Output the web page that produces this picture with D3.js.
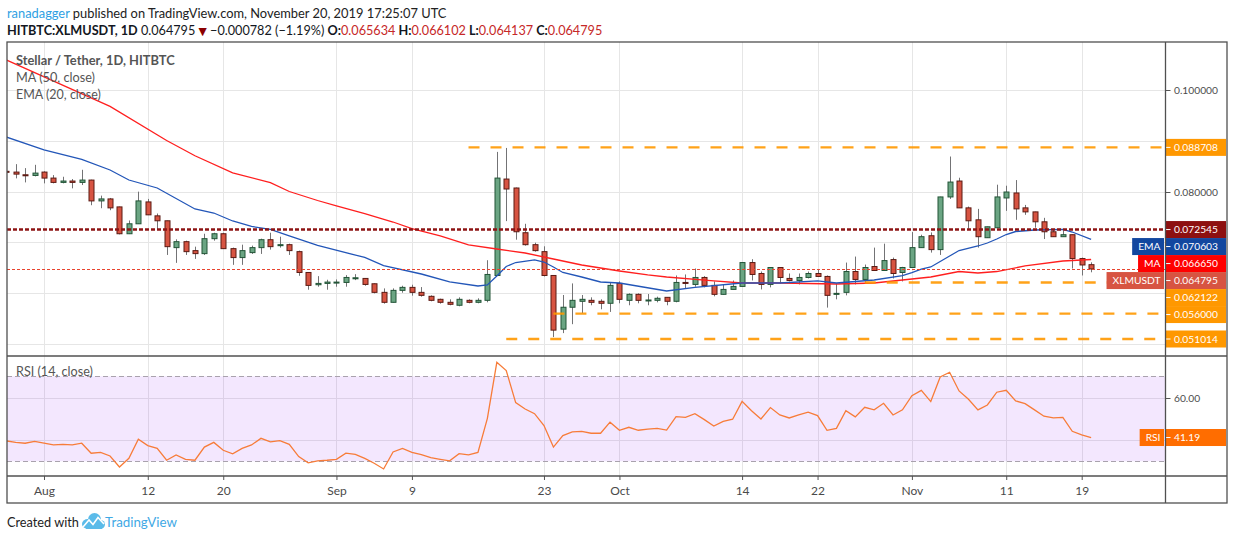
<!DOCTYPE html>
<html>
<head>
<meta charset="utf-8">
<script src="https://cdnjs.cloudflare.com/ajax/libs/d3/7.8.5/d3.min.js"></script>
<style>
  html, body { margin: 0; padding: 0; background: #fff; }
  svg { display: block; font-family: "Lato", "Open Sans", sans-serif; }
</style>
</head>
<body>
<div class="viz"></div>
<script>
// daily candles, 2019-07-28 .. 2019-11-20
const firstDay = "2019-07-28", lastDay = "2019-11-20";

const opens = [
  0.0840, 0.08385, 0.08332, 0.08319,
  0.08385, 0.08267, 0.08182, 0.08209, 0.08182, 0.08228, 0.07818, 0.07857, 0.07700, 0.07172,
  0.07368, 0.07798, 0.07524, 0.07427, 0.06899, 0.07016, 0.06840, 0.06781, 0.07075, 0.07172,
  0.06879, 0.06703, 0.06801, 0.06899, 0.07055, 0.06938, 0.06957, 0.06820, 0.06410, 0.06169, 0.06195,
  0.06208, 0.06214, 0.06286, 0.06293, 0.06188, 0.06019, 0.05823, 0.06058, 0.06117, 0.06019,
  0.05941, 0.05882, 0.05823, 0.05765, 0.05862, 0.05823, 0.05862, 0.06351, 0.08248, 0.08072,
  0.07192, 0.06957, 0.06820, 0.06351, 0.05295, 0.05726, 0.05843, 0.05862, 0.05843, 0.05804,
  0.06195, 0.05862, 0.05980, 0.05862, 0.05862, 0.05921, 0.05843, 0.06214, 0.06175, 0.06312,
  0.06156, 0.05980, 0.06077, 0.06136, 0.06605, 0.06390, 0.06175, 0.06508, 0.06293, 0.06253,
  0.06312, 0.06390, 0.06332, 0.05980, 0.06019, 0.06429, 0.06273, 0.06527, 0.06449, 0.06664, 0.06410,
  0.06508, 0.06899, 0.07133, 0.06860, 0.07896, 0.08209, 0.07681, 0.07446, 0.07094, 0.07290,
  0.07876, 0.07974, 0.07681, 0.07602, 0.07407, 0.07211, 0.07114, 0.07153, 0.06684, 0.065634
];
const highs = [
  0.0843, 0.08541, 0.08463, 0.08528,
  0.08400, 0.08326, 0.08293, 0.08248, 0.08430, 0.08235, 0.07922, 0.07876, 0.07705, 0.07433,
  0.08000, 0.07857, 0.07570, 0.07430, 0.07062, 0.07036, 0.06918, 0.07172, 0.07192, 0.07192,
  0.06899, 0.06957, 0.06938, 0.07075, 0.07192, 0.07114, 0.06977, 0.06840, 0.06415, 0.06338, 0.06267,
  0.06273, 0.06358, 0.06377, 0.06300, 0.06195, 0.06097, 0.06097, 0.06149, 0.06169, 0.06123,
  0.05960, 0.05895, 0.05882, 0.05921, 0.05882, 0.05902, 0.06651, 0.08782, 0.08860, 0.08080,
  0.07368, 0.06996, 0.06925, 0.06355, 0.05967, 0.06195, 0.05967, 0.05921, 0.05882, 0.06214,
  0.06234, 0.05999, 0.05999, 0.05986, 0.05934, 0.05925, 0.06351, 0.06371, 0.06488, 0.06338,
  0.06234, 0.06175, 0.06253, 0.06610, 0.06671, 0.06429, 0.06512, 0.06512, 0.06390, 0.06390,
  0.06429, 0.06475, 0.06351, 0.06195, 0.06605, 0.06723, 0.06566, 0.06899, 0.06977, 0.06703, 0.06521,
  0.07205, 0.07153, 0.07198, 0.07900, 0.08691, 0.08274, 0.07707, 0.07661, 0.07312, 0.08137,
  0.08117, 0.08228, 0.07739, 0.07605, 0.07485, 0.07251, 0.07231, 0.07156, 0.06703, 0.066102
];
const lows = [
  0.0836, 0.08261, 0.08182, 0.08300,
  0.08163, 0.08163, 0.08163, 0.08065, 0.08130, 0.07733, 0.07674, 0.07635, 0.07160, 0.07166,
  0.07365, 0.07540, 0.07257, 0.06755, 0.06599, 0.06755, 0.06677, 0.06755, 0.07036, 0.06875,
  0.06560, 0.06560, 0.06775, 0.06775, 0.06860, 0.06899, 0.06755, 0.06345, 0.06071, 0.06130, 0.06071,
  0.06130, 0.06130, 0.06260, 0.06149, 0.05999, 0.05797, 0.05820, 0.06012, 0.05954, 0.05934,
  0.05843, 0.05797, 0.05765, 0.05745, 0.05804, 0.05804, 0.05823, 0.06348, 0.07420, 0.07055,
  0.06938, 0.06820, 0.06332, 0.05139, 0.05217, 0.05393, 0.05608, 0.05765, 0.05686, 0.05634,
  0.05804, 0.05765, 0.05804, 0.05765, 0.05823, 0.05765, 0.05823, 0.06097, 0.06130, 0.06117,
  0.05941, 0.05975, 0.06072, 0.06130, 0.06253, 0.06077, 0.06117, 0.06195, 0.06234, 0.06175,
  0.06293, 0.06325, 0.05719, 0.05882, 0.05960, 0.06175, 0.06195, 0.06445, 0.06445, 0.06293, 0.06234,
  0.06505, 0.06895, 0.06801, 0.06755, 0.07857, 0.07678, 0.07270, 0.06899, 0.07090, 0.07286,
  0.07622, 0.07446, 0.07544, 0.07290, 0.07068, 0.07110, 0.07110, 0.06488, 0.06351, 0.064137
];
const closes = [
  0.08385, 0.08345, 0.08319, 0.08365,
  0.08267, 0.08182, 0.08209, 0.08182, 0.08228, 0.07818, 0.07857, 0.07681, 0.07172, 0.07368,
  0.07818, 0.07544, 0.07427, 0.06918, 0.07016, 0.06820, 0.06781, 0.07075, 0.07172, 0.06879,
  0.06703, 0.06840, 0.06899, 0.07055, 0.06918, 0.06957, 0.06840, 0.06410, 0.06156, 0.06195, 0.06221,
  0.06221, 0.06312, 0.06306, 0.06175, 0.06019, 0.05823, 0.06058, 0.06117, 0.06019, 0.05960,
  0.05862, 0.05823, 0.05784, 0.05882, 0.05823, 0.05862, 0.06371, 0.08267, 0.08052, 0.07211,
  0.06957, 0.06840, 0.06351, 0.05276, 0.05726, 0.05862, 0.05882, 0.05823, 0.05804, 0.06156,
  0.05882, 0.05980, 0.05862, 0.05869, 0.05902, 0.05843, 0.06214, 0.06201, 0.06312, 0.06156,
  0.05980, 0.06077, 0.06136, 0.06605, 0.06371, 0.06175, 0.06508, 0.06312, 0.06253, 0.06312,
  0.06390, 0.06332, 0.05960, 0.05999, 0.06429, 0.06273, 0.06508, 0.06449, 0.06644, 0.06390, 0.06508,
  0.06899, 0.07114, 0.06860, 0.07896, 0.08189, 0.07681, 0.07427, 0.07114, 0.07309, 0.07896,
  0.07993, 0.07661, 0.07602, 0.07407, 0.07211, 0.07114, 0.07153, 0.06684, 0.065577, 0.064795
];
const rsiValues = [
  39.6, 38.9, 38.5, 39.4,
  38.5, 37.7, 38.0, 37.7, 38.5, 33.8, 34.2, 32.5, 27.3, 31.4,
  40.4, 37.4, 36.1, 30.5, 33.0, 30.9, 30.5, 36.7, 38.9, 35.2,
  33.5, 36.1, 37.7, 40.8, 39.1, 39.7, 38.0, 32.2, 29.3, 30.2, 30.5,
  30.9, 33.8, 33.3, 31.4, 29.1, 26.4, 34.4, 36.1, 34.2, 33.1,
  31.7, 30.9, 30.2, 33.6, 33.0, 34.2, 50.2, 76.6, 72.7, 57.6,
  54.6, 52.4, 46.8, 36.7, 42.1, 43.8, 44.1, 43.2, 43.2, 48.4,
  44.6, 46.0, 44.6, 45.1, 45.5, 44.7, 51.0, 50.7, 52.4, 49.6,
  46.6, 48.8, 49.8, 58.2, 53.8, 49.9, 55.3, 51.8, 50.4, 51.8,
  53.1, 51.5, 44.6, 45.5, 53.8, 50.9, 55.4, 54.2, 57.3, 51.8, 54.2,
  60.9, 63.4, 58.1, 69.7, 71.9, 63.1, 59.2, 54.2, 56.5, 62.5,
  63.4, 58.4, 57.1, 54.2, 51.2, 50.4, 50.7, 44.1, 42.4, 41.19
];

// MA (50)
const maLine = [
  ["2019-07-28", 0.10590], ["2019-08-08", 0.09677], ["2019-08-14", 0.09007], ["2019-08-17", 0.08706],
  ["2019-08-21", 0.08371], ["2019-08-25", 0.08178], ["2019-08-27", 0.08003], ["2019-08-30", 0.07826],
  ["2019-09-01", 0.07718], ["2019-09-04", 0.07566], ["2019-09-07", 0.07403], ["2019-09-09", 0.07275],
  ["2019-09-12", 0.07128], ["2019-09-15", 0.06951], ["2019-09-18", 0.06872], ["2019-09-21", 0.06793],
  ["2019-09-24", 0.06675], ["2019-09-27", 0.06557], ["2019-10-01", 0.06439], ["2019-10-04", 0.06361],
  ["2019-10-06", 0.06321], ["2019-10-11", 0.06243], ["2019-10-14", 0.06203], ["2019-10-18", 0.06203],
  ["2019-10-24", 0.06183], ["2019-10-28", 0.06203], ["2019-10-31", 0.06262], ["2019-11-03", 0.06321],
  ["2019-11-06", 0.06429], ["2019-11-08", 0.06400], ["2019-11-10", 0.06429], ["2019-11-13", 0.06538],
  ["2019-11-17", 0.06636], ["2019-11-20", 0.06665]
];
// EMA (20)
const emaLine = [
  ["2019-07-28", 0.09075], ["2019-08-01", 0.08820], ["2019-08-05", 0.08633], ["2019-08-08", 0.08426],
  ["2019-08-10", 0.08229], ["2019-08-13", 0.08072], ["2019-08-17", 0.07659], ["2019-08-19", 0.07580],
  ["2019-08-21", 0.07423], ["2019-08-23", 0.07315], ["2019-08-25", 0.07256], ["2019-08-27", 0.07128],
  ["2019-08-30", 0.06941], ["2019-09-04", 0.06705], ["2019-09-06", 0.06547], ["2019-09-10", 0.06380],
  ["2019-09-13", 0.06223], ["2019-09-16", 0.06144], ["2019-09-17", 0.06164], ["2019-09-18", 0.06341],
  ["2019-09-19", 0.06528], ["2019-09-20", 0.06606], ["2019-09-22", 0.06656], ["2019-09-23", 0.06616],
  ["2019-09-24", 0.06518], ["2019-09-25", 0.06410], ["2019-09-27", 0.06321], ["2019-09-29", 0.06223],
  ["2019-10-01", 0.06203], ["2019-10-06", 0.06046], ["2019-10-09", 0.06115], ["2019-10-14", 0.06203],
  ["2019-10-18", 0.06203], ["2019-10-22", 0.06243], ["2019-10-24", 0.06203], ["2019-10-28", 0.06262],
  ["2019-10-31", 0.06350], ["2019-11-01", 0.06406], ["2019-11-02", 0.06478], ["2019-11-03", 0.06518],
  ["2019-11-04", 0.06626], ["2019-11-05", 0.06734], ["2019-11-06", 0.06842], ["2019-11-08", 0.06931],
  ["2019-11-09", 0.06990], ["2019-11-10", 0.07069], ["2019-11-11", 0.07157], ["2019-11-12", 0.07216],
  ["2019-11-14", 0.07246], ["2019-11-17", 0.07256], ["2019-11-18", 0.07206], ["2019-11-20", 0.070603]
];

// drawn horizontal levels
const supportLevels = [0.088708, 0.062122, 0.056000, 0.051014];
const supportStarts = ["2019-09-15", "2019-10-27", "2019-09-24", "2019-09-19"];
const keyLevel = 0.072545;

const xTicks = ["2019-08-01", "2019-08-12", "2019-08-20", "2019-09-01", "2019-09-09", "2019-09-23",
                "2019-10-01", "2019-10-14", "2019-10-22", "2019-11-01", "2019-11-11", "2019-11-19"];
const priceTicks = [0.05, 0.06, 0.07, 0.08, 0.09, 0.10];
const rsiTicks = [40, 60];
const rsiBand = [30, 70];

const parse = d3.utcParse("%Y-%m-%d");
const days = d3.utcDay.range(parse(firstDay), d3.utcDay.offset(parse(lastDay), 1));
const candles = days.map((d, i) => ({ date: d, o: opens[i], h: highs[i], l: lows[i], c: closes[i], rsi: rsiValues[i] }));
const lastBar = candles[candles.length - 1], prevBar = candles[candles.length - 2];

const W = 1234, H = 540;
const padL = 7, axisX = 1165.5, frameR = 1227, paneTop = 42, paneSplit = 356, rsiBottom = 476, frameBottom = 503;

const x = d3.scaleUtc().domain([parse("2019-08-01"), parse("2019-11-19")]).range([44, 1081.7]);
const y = d3.scaleLinear().domain([0.04767, 0.10944]).range([paneSplit, paneTop]);
const yr = d3.scaleLinear().domain([23.08, 79.55]).range([rsiBottom, paneSplit]);
const fmt6 = d3.format(".6f");

const svg = d3.select(".viz").append("svg").attr("width", W).attr("height", H);
const defs = svg.append("defs");
defs.append("clipPath").attr("id", "clipMain").append("rect")
  .attr("x", padL).attr("y", paneTop).attr("width", axisX - padL).attr("height", paneSplit - paneTop);
defs.append("clipPath").attr("id", "clipRsi").append("rect")
  .attr("x", padL).attr("y", paneSplit).attr("width", axisX - padL).attr("height", rsiBottom - paneSplit);

function fit(sel, target) {
  const w = sel.node().getComputedTextLength();
  const fs = parseFloat(sel.attr("font-size"));
  sel.attr("font-size", fs * target / w);
  return sel;
}

// header
const h1 = svg.append("text").attr("x", 7).attr("y", 17.5).attr("font-size", 13).attr("fill", "#222");
h1.append("tspan").attr("fill", "#2f9fe3").text("ranadagger");
h1.append("tspan").text(" published on TradingView.com, November 20, 2019 17:25:07 UTC");
fit(h1, 440);

const chg = lastBar.c - prevBar.c;
const h2 = svg.append("text").attr("x", 7).attr("y", 35).attr("font-size", 13).attr("fill", "#131722");
h2.append("tspan").attr("font-weight", "bold").text("HITBTC:XLMUSDT, 1D");
h2.append("tspan").text(" " + fmt6(lastBar.c) + " ");
h2.append("tspan").attr("fill", "#8b0000").attr("font-family", "DejaVu Sans").attr("font-size", "0.85em").text("▼");
h2.append("tspan").text(" " + fmt6(chg) + " (" + d3.format(".2f")(chg / prevBar.c * 100) + "%) ");
[["O:", lastBar.o], [" H:", lastBar.h], [" L:", lastBar.l], [" C:", lastBar.c]].forEach(([k, v]) => {
  h2.append("tspan").attr("font-weight", "bold").text(k);
  h2.append("tspan").attr("fill", "#c62828").text(fmt6(v));
});
fit(h2, 596);

// grid
const grid = svg.append("g").attr("stroke", "#e6e6e6").attr("stroke-width", 1);
xTicks.forEach(t => {
  const xx = Math.round(x(parse(t))) + 0.5;
  grid.append("line").attr("x1", xx).attr("x2", xx).attr("y1", paneTop).attr("y2", rsiBottom);
});
priceTicks.forEach(p => {
  const yy = Math.round(y(p)) + 0.5;
  grid.append("line").attr("x1", padL).attr("x2", axisX).attr("y1", yy).attr("y2", yy);
});
rsiTicks.forEach(r => {
  const yy = Math.round(yr(r)) + 0.5;
  grid.append("line").attr("x1", padL).attr("x2", axisX).attr("y1", yy).attr("y2", yy);
});

// main pane
const main = svg.append("g").attr("clip-path", "url(#clipMain)");
const cx = d => Math.round(x(d.date)) + 0.5;

main.selectAll("line.wick").data(candles).join("line")
  .attr("class", "wick")
  .attr("x1", cx).attr("x2", cx)
  .attr("y1", d => y(d.h)).attr("y2", d => y(d.l))
  .attr("stroke", "#737375").attr("stroke-width", 1);

main.selectAll("rect.body").data(candles).join("rect")
  .attr("class", "body")
  .attr("x", d => cx(d) - 2.5)
  .attr("width", 5)
  .attr("y", d => y(Math.max(d.o, d.c)))
  .attr("height", d => Math.max(1, Math.abs(y(d.o) - y(d.c))))
  .attr("fill", d => d.c >= d.o ? "#6ba583" : "#d75442")
  .attr("stroke", d => d.c >= d.o ? "#225437" : "#5b1a13")
  .attr("stroke-width", 1);

const line = d3.line().x(d => x(parse(d[0]))).y(d => y(d[1]));
main.append("path").attr("d", line(maLine)).attr("fill", "none")
  .attr("stroke", "#ff1f1f").attr("stroke-width", 1.3);
main.append("path").attr("d", line(emaLine)).attr("fill", "none")
  .attr("stroke", "#2356b8").attr("stroke-width", 1.3);

main.append("line")
  .attr("x1", padL).attr("x2", axisX).attr("y1", y(keyLevel)).attr("y2", y(keyLevel))
  .attr("stroke", "#8d1414").attr("stroke-width", 2.6).attr("stroke-dasharray", "4,2");

supportLevels.forEach((v, i) => {
  main.append("line")
    .attr("x1", x(parse(supportStarts[i]))).attr("x2", axisX)
    .attr("y1", y(v)).attr("y2", y(v))
    .attr("stroke", "#ff9800").attr("stroke-opacity", 0.9)
    .attr("stroke-width", 2.4).attr("stroke-dasharray", "11,11");
});

const lastY = Math.round(y(lastBar.c)) + 0.5;
main.append("line")
  .attr("x1", padL).attr("x2", axisX).attr("y1", lastY).attr("y2", lastY)
  .attr("stroke", "#e8432e").attr("stroke-width", 1).attr("stroke-dasharray", "3,2");

// legend in pane
const legendRows = [["Stellar / Tether, 1D, HITBTC", 65, 159, "bold"], ["MA (50, close)", 82, 79, "normal"], ["EMA (20, close)", 99, 85, "normal"]];
legendRows.forEach(([t, yy, w, fw]) => {
  fit(svg.append("text").attr("x", 16).attr("y", yy).attr("font-size", 13)
    .attr("font-weight", fw).attr("fill", "#555").text(t), w);
});

// rsi pane
const rp = svg.append("g").attr("clip-path", "url(#clipRsi)");
rp.append("rect").attr("x", padL).attr("width", axisX - padL)
  .attr("y", yr(rsiBand[1])).attr("height", yr(rsiBand[0]) - yr(rsiBand[1]))
  .attr("fill", "rgb(150,40,250)").attr("fill-opacity", 0.11);
rsiBand.forEach(v => {
  rp.append("line").attr("x1", padL).attr("x2", axisX)
    .attr("y1", Math.round(yr(v)) + 0.5).attr("y2", Math.round(yr(v)) + 0.5)
    .attr("stroke", "#a9a2ad").attr("stroke-dasharray", "5,3");
});
rp.append("path")
  .attr("d", d3.line().x(d => x(d.date)).y(d => yr(d.rsi))(candles))
  .attr("fill", "none").attr("stroke", "#f77c39").attr("stroke-width", 1.3);
fit(svg.append("text").attr("x", 16).attr("y", 376).attr("font-size", 13).attr("fill", "#555")
  .text("RSI (14, close)"), 77);

// x axis
const xAxis = svg.append("g").attr("transform", `translate(0,${rsiBottom})`)
  .call(d3.axisBottom(x).tickValues(xTicks.map(parse)).tickSize(4).tickPadding(6)
    .tickFormat(d => d.getUTCDate() === 1 ? d3.utcFormat("%b")(d) : d.getUTCDate()));
xAxis.select(".domain").remove();
xAxis.selectAll("line").attr("stroke", "#555");
xAxis.selectAll("text").attr("fill", "#4a4a4a").attr("font-size", 12).attr("font-family", "Lato, sans-serif");

// colored value labels, stacked so they never overlap
const lh = 17;
const labels = [
  { v: supportLevels[0], bg: "#ff9800" },
  { v: keyLevel, bg: "#8d1010" },
  { v: emaLine[emaLine.length - 1][1], bg: "#12479f", name: "EMA" },
  { v: maLine[maLine.length - 1][1], bg: "#ff0000", name: "MA" },
  { v: lastBar.c, bg: "#d75442", name: "XLMUSDT" },
  { v: supportLevels[1], bg: "#ff9800" },
  { v: supportLevels[2], bg: "#ff9800" },
  { v: supportLevels[3], bg: "#ff9800" }
].map(d => ({ ...d, y: y(d.v) })).sort((a, b) => a.y - b.y);
labels.forEach((d, i) => { if (i > 0) d.y = Math.max(d.y, labels[i - 1].y + lh); });
const rsiLabelY = yr(lastBar.rsi);

// price axis tick labels (the ones fully under a colored label are not drawn)
const probe = svg.append("text").attr("font-size", 11).text("0.100000");
const axisFs = 11 * 44 / probe.node().getComputedTextLength();
probe.remove();

const covered = (yy, ys) => ys.some(ly => Math.abs(ly - yy) < lh / 2 - 2);
const axisG = svg.append("g").attr("font-size", axisFs);
priceTicks.forEach(p => {
  const yy = Math.round(y(p)) + 0.5;
  if (covered(yy, labels.map(d => d.y))) return;
  axisG.append("line").attr("x1", axisX).attr("x2", axisX + 5).attr("y1", yy).attr("y2", yy).attr("stroke", "#555");
  axisG.append("text").attr("x", 1174).attr("y", yy).attr("dy", "0.35em").attr("fill", "#4a4a4a").text(fmt6(p));
});
rsiTicks.forEach(r => {
  const yy = Math.round(yr(r)) + 0.5;
  if (covered(yy, [rsiLabelY])) return;
  axisG.append("line").attr("x1", axisX).attr("x2", axisX + 5).attr("y1", yy).attr("y2", yy).attr("stroke", "#555");
  axisG.append("text").attr("x", 1174).attr("y", yy).attr("dy", "0.35em").attr("fill", "#4a4a4a").text(d3.format(".2f")(r));
});

function valueLabel(g, yy, txt, bg, name) {
  g.append("rect").attr("x", axisX).attr("y", yy - lh / 2).attr("width", frameR - axisX - 1).attr("height", lh).attr("fill", bg);
  g.append("line").attr("x1", axisX).attr("x2", axisX + 5).attr("y1", yy).attr("y2", yy).attr("stroke", "#fff");
  g.append("text").attr("x", 1174).attr("y", yy).attr("dy", "0.35em").attr("fill", "#fff").text(txt);
  if (name) {
    const box = g.append("rect").attr("y", yy - lh / 2).attr("height", lh).attr("fill", bg);
    const t = g.append("text").attr("x", axisX - 5).attr("y", yy).attr("dy", "0.35em")
      .attr("text-anchor", "end").attr("fill", "#fff").text(name);
    const w = t.node().getComputedTextLength();
    box.attr("x", axisX - w - 11).attr("width", w + 9.5);
  }
}
labels.forEach(d => valueLabel(axisG, d.y, fmt6(d.v), d.bg, d.name));

const rsiG = svg.append("g").attr("font-size", axisFs);
valueLabel(rsiG, rsiLabelY, d3.format(".2f")(lastBar.rsi), "#ff6d00", "RSI");

// frame
const fr = svg.append("g").attr("stroke", "#505050").attr("stroke-width", 1.3).attr("fill", "none");
fr.append("rect").attr("x", padL).attr("y", paneTop).attr("width", frameR - padL).attr("height", frameBottom - paneTop);
fr.append("line").attr("x1", padL).attr("x2", frameR).attr("y1", paneSplit).attr("y2", paneSplit);
fr.append("line").attr("x1", padL).attr("x2", frameR).attr("y1", rsiBottom).attr("y2", rsiBottom);
fr.append("line").attr("x1", axisX).attr("x2", axisX).attr("y1", paneTop).attr("y2", frameBottom);

// footer
fit(svg.append("text").attr("x", 7).attr("y", 527).attr("font-size", 13).attr("fill", "#222").text("Created with"), 72);
const logo = svg.append("g").attr("fill", "#5bbbe9");
logo.append("ellipse").attr("cx", 88).attr("cy", 524).attr("rx", 6).attr("ry", 5);
logo.append("ellipse").attr("cx", 94.5).attr("cy", 519.5).attr("rx", 6.5).attr("ry", 6.5);
logo.append("ellipse").attr("cx", 100).attr("cy", 524.5).attr("rx", 5).attr("ry", 4.5);
logo.append("rect").attr("x", 86).attr("y", 522).attr("width", 16).attr("height", 7);
logo.append("path").attr("d", "M83,527 L89,520 L93,524.5 L98,517.5 L104,524")
  .attr("fill", "none").attr("stroke", "#fff").attr("stroke-width", 1.6);
fit(svg.append("text").attr("x", 105).attr("y", 527).attr("font-size", 13).attr("fill", "#3fa9e5").text("TradingView"), 72);
</script>
</body>
</html>
